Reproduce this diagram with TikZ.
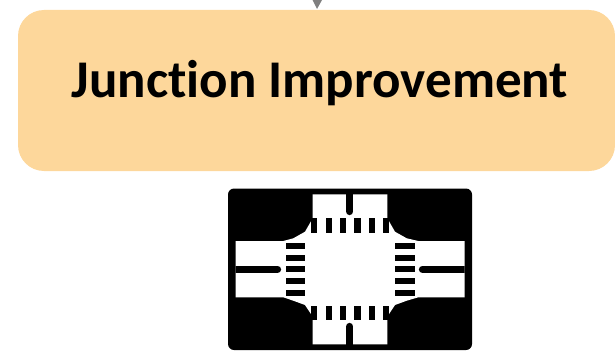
\documentclass[tikz,border=0pt]{standalone}
\usepackage{fontspec}
\setmainfont[Ligatures=NoCommon]{Carlito}
\usetikzlibrary{positioning}
\definecolor{boxorange}{HTML}{FDD79B}
\definecolor{tipgray}{HTML}{7F7F7F}
\newcommand{\tikzmedian}[2]{\draw[median] (#1) -- (#2);}
\tikzset{
  jbox/.style={draw=none, fill=boxorange, rounded corners=26pt, minimum width=597pt, minimum height=161pt, inner sep=0pt},
  jtitle/.style={anchor=base, inner sep=0pt, font=\fontsize{53}{53}\selectfont\bfseries},
  tiptri/.style={fill=tipgray, draw=none},
  road/.style={fill=white, draw=none},
  median/.style={draw=black, line width=7.3pt, line cap=round},
  zebra/.style={fill=black, draw=none}
}
\begin{document}
\begin{tikzpicture}[x=1pt,y=-1pt]
  \useasboundingbox (0,0) rectangle (615,361);
  \node[jbox] (box) at (316.5,90.5) {};
  \node[jtitle] (title) at (320,97) {Junction Improvement};
  \fill[tiptri] (312.5,0) -- (322,0) -- (317,9) -- cycle;
  % junction icon
  \fill[black, rounded corners=6pt] (228,188.5) rectangle (472,350);
  \fill[road] (312.7,194.3) -- (387.3,194.3) -- (387.3,218.3) -- (395,231.7) -- (406.7,238.3) -- (418.3,241) -- (464.7,241)
    -- (464.7,297.3) -- (418.3,297.3) -- (406.7,300.7) -- (395,305) -- (387.3,316.7) -- (387.3,344.3)
    -- (312.7,344.3) -- (312.7,316.7) -- (305,305) -- (293.3,300.7) -- (283.3,297.3) -- (235.7,297.3)
    -- (235.7,241) -- (283.3,241) -- (293.3,238.3) -- (305,231.7) -- (312.7,218.3) -- cycle;
  % medians
  \coordinate (mt) at (349.7,188);
  \coordinate (mte) at (349.7,211.5);
  \coordinate (mb) at (349.7,350);
  \coordinate (mbe) at (349.7,326.5);
  \coordinate (ml) at (230,269.3);
  \coordinate (mle) at (277.5,269.3);
  \coordinate (mr) at (470,269.3);
  \coordinate (mre) at (422.5,269.3);
  \begin{scope}
    \clip (235.7,194.3) rectangle (464.7,344.3);
    \tikzmedian{mt}{mte}
    \tikzmedian{mb}{mbe}
    \tikzmedian{ml}{mle}
    \tikzmedian{mr}{mre}
  \end{scope}
  % crossings
  \foreach \xc in {314,328.7,343,357.5,371.8,385.7} {
    \fill[zebra] (\xc-3.2,218.3) rectangle (\xc+3.2,233.3);
    \fill[zebra] (\xc-3.2,305.7) rectangle (\xc+3.2,320);
  }
  \foreach \yc in {246,257.7,269.3,281.3,293.3} {
    \fill[zebra] (285.7,\yc-3.1) rectangle (305,\yc+3.1);
    \fill[zebra] (395.3,\yc-3.1) rectangle (415,\yc+3.1);
  }
\end{tikzpicture}
\end{document}
